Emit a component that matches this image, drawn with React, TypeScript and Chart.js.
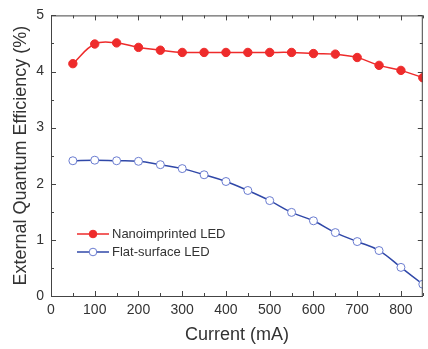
import React, { useEffect, useRef } from "react";
import { Chart, registerables } from "chart.js";

Chart.register(...registerables);

const currents = [50, 100, 150, 200, 250, 300, 350, 400, 450, 500, 550, 600, 650, 700, 750, 800, 850];
const nanoimprinted = [4.14, 4.49, 4.51, 4.43, 4.38, 4.34, 4.34, 4.34, 4.34, 4.34, 4.34, 4.32, 4.31, 4.25, 4.11, 4.02, 3.89];
const flatSurface = [2.41, 2.42, 2.41, 2.40, 2.34, 2.27, 2.16, 2.04, 1.88, 1.70, 1.49, 1.34, 1.13, 0.97, 0.81, 0.51, 0.21];
const xTicks = [0, 100, 200, 300, 400, 500, 600, 700, 800];
const yTicks = [0, 1, 2, 3, 4, 5];
const seriesNames = ["Nanoimprinted LED", "Flat-surface LED"];

const RED = "#ee2b2b";
const BLUE = "#3048a8";
const BLUE_MARK = "#6a7cd0";
const AXIS = "#444444";
const TEXT = "#333333";
const FONT = "'Liberation Sans', Arial, sans-serif";

const framePlugin = {
  id: "frameTicks",
  afterDatasetsDraw(chart: any) {
    const { ctx, chartArea, scales } = chart;
    const { left, right, top, bottom } = chartArea;
    const xs = scales.x;
    const ys = scales.y;
    ctx.save();
    ctx.strokeStyle = AXIS;
    ctx.lineWidth = 1;
    ctx.beginPath();
    ctx.rect(left + 0.5, top + 0.5, right - left - 1, bottom - top);
    ctx.stroke();
    ctx.beginPath();
    for (let v = 0; v <= 850; v += 50) {
      const len = v % 100 === 0 ? 5 : 3;
      const px = Math.round(xs.getPixelForValue(v)) + 0.5;
      ctx.moveTo(px, bottom);
      ctx.lineTo(px, bottom - len);
      ctx.moveTo(px, top);
      ctx.lineTo(px, top + len);
    }
    for (let v = 0; v <= 5; v += 0.5) {
      const len = Math.abs(v - Math.round(v)) < 1e-6 ? 5 : 3;
      const py = Math.round(ys.getPixelForValue(v)) + 0.5;
      ctx.moveTo(left, py);
      ctx.lineTo(left + len, py);
      ctx.moveTo(right, py);
      ctx.lineTo(right - len, py);
    }
    ctx.stroke();
    ctx.restore();
  },
  afterDraw(chart: any) {
    const { ctx, chartArea } = chart;
    const x0 = chartArea.left + 26;
    const rows = [chartArea.bottom - 62, chartArea.bottom - 44];
    const styles = [
      { line: RED, fill: RED, stroke: RED },
      { line: BLUE, fill: "#ffffff", stroke: BLUE_MARK },
    ];
    ctx.save();
    ctx.font = `13px ${FONT}`;
    ctx.textBaseline = "middle";
    ctx.textAlign = "left";
    rows.forEach((y, i) => {
      const s = styles[i];
      ctx.strokeStyle = s.line;
      ctx.lineWidth = 1.5;
      ctx.beginPath();
      ctx.moveTo(x0, y);
      ctx.lineTo(x0 + 32, y);
      ctx.stroke();
      ctx.beginPath();
      ctx.arc(x0 + 16, y, 3.8, 0, Math.PI * 2);
      ctx.fillStyle = s.fill;
      ctx.fill();
      ctx.lineWidth = 1;
      ctx.strokeStyle = s.stroke;
      ctx.stroke();
      ctx.fillStyle = TEXT;
      ctx.fillText(seriesNames[i], x0 + 35, y + 0.5);
    });
    ctx.restore();
  },
};

export default function App() {
  const ref = useRef<HTMLCanvasElement>(null);
  useEffect(() => {
    document.body.style.margin = "0";
    const chart = new Chart(ref.current as HTMLCanvasElement, {
      type: "line",
      data: {
        labels: currents,
        datasets: [
          {
            label: seriesNames[0],
            data: currents.map((c, i) => ({ x: c, y: nanoimprinted[i] })),
            borderColor: RED,
            backgroundColor: RED,
            borderWidth: 1.5,
            pointRadius: 4.2,
            pointBorderWidth: 1,
            pointBackgroundColor: RED,
            pointBorderColor: RED,
            tension: 0.4,
          },
          {
            label: seriesNames[1],
            data: currents.map((c, i) => ({ x: c, y: flatSurface[i] })),
            borderColor: BLUE,
            backgroundColor: "#ffffff",
            borderWidth: 1.5,
            pointRadius: 4,
            pointBorderWidth: 1,
            pointBackgroundColor: "#ffffff",
            pointBorderColor: BLUE_MARK,
            tension: 0.4,
          },
        ],
      },
      options: {
        animation: false,
        responsive: false,
        layout: { padding: { top: 14, right: 0, left: 0, bottom: 0 } },
        plugins: { legend: { display: false }, tooltip: { enabled: false } },
        scales: {
          x: {
            type: "linear",
            min: 0,
            max: 850,
            afterBuildTicks: (s: any) => {
              s.ticks = xTicks.map((v) => ({ value: v }));
            },
            afterFit: (s: any) => {
              s.height = 53;
            },
            grid: { display: false, drawTicks: false },
            border: { display: true, color: AXIS },
            ticks: {
              padding: 6,
              color: TEXT,
              font: { family: FONT, size: 14 },
              maxRotation: 0,
              autoSkip: false,
            },
            title: {
              display: true,
              text: "Current (mA)",
              color: TEXT,
              font: { family: FONT, size: 18 },
              padding: { top: 0, bottom: 3 },
            },
          },
          y: {
            type: "linear",
            min: 0,
            max: 5,
            afterBuildTicks: (s: any) => {
              s.ticks = yTicks.map((v) => ({ value: v }));
            },
            afterFit: (s: any) => {
              s.width = 51;
            },
            grid: { display: false, drawTicks: false },
            border: { display: true, color: AXIS },
            ticks: {
              padding: 7,
              color: TEXT,
              font: { family: FONT, size: 14 },
              autoSkip: false,
            },
            title: {
              display: true,
              text: "External Quantum Efficiency (%)",
              color: TEXT,
              font: { family: FONT, size: 18 },
              padding: { top: 10, bottom: 0 },
            },
          },
        },
      },
      plugins: [framePlugin],
    } as any);
    return () => chart.destroy();
  }, []);
  return (
    <div style={{ position: "absolute", left: 0, top: 0, width: 428, height: 349, background: "#fff" }}>
      <canvas ref={ref} width={428} height={349} />
    </div>
  );
}
